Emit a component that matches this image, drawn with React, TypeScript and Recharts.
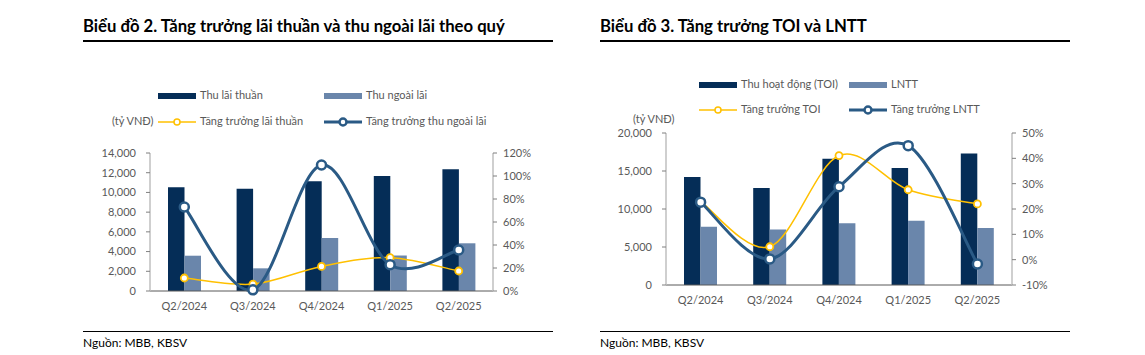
import React from "react";
import {
  ComposedChart,
  Bar,
  Line,
  XAxis,
  YAxis,
} from "recharts";

// data
const quarters = ["Q2/2024", "Q3/2024", "Q4/2024", "Q1/2025", "Q2/2025"];

const netInterest = [10520, 10380, 11130, 11670, 12350];
const nonInterest = [3580, 2300, 5380, 3600, 4840];
const netInterestGrowth = [11.3, 6, 21.4, 29, 17.4];
const nonInterestGrowth = [73, 1, 109.6, 22.9, 35.7];

const toi = [14200, 12750, 16610, 15390, 17310];
const pbt = [7650, 7290, 8130, 8440, 7510];
const toiGrowth = [23, 5.1, 41.1, 27.6, 22];
const pbtGrowth = [22.7, 0.3, 28.8, 45, -1.7];

const leftTicks = [0, 2000, 4000, 6000, 8000, 10000, 12000, 14000];
const leftPctTicks = [0, 20, 40, 60, 80, 100, 120];
const rightTicks = [0, 5000, 10000, 15000, 20000];
const rightPctTicks = [-10, 0, 10, 20, 30, 40, 50];

const DARK = "#052D57";
const LIGHT = "#6A86AB";
const LINE_BLUE = "#2A5A85";
const YELLOW = "#FFC000";
const GREY_TEXT = "#595959";
const FONT = "Lato, 'Open Sans', sans-serif";

const chart1 = quarters.map((q, i) => ({
  name: q,
  a: netInterest[i],
  b: nonInterest[i],
  ga: netInterestGrowth[i],
  gb: nonInterestGrowth[i],
}));

const chart2 = quarters.map((q, i) => ({
  name: q,
  a: toi[i],
  b: pbt[i],
  ga: toiGrowth[i],
  gb: pbtGrowth[i],
}));

// excel-like smoothed line (catmull-rom)
const smoothCurve = (context: any) => {
  let pts: [number, number][] = [];
  return {
    areaStart() {},
    areaEnd() {},
    lineStart() {
      pts = [];
    },
    point(x: number, y: number) {
      pts.push([+x, +y]);
    },
    lineEnd() {
      const n = pts.length;
      if (!n) return;
      const k = 1 / 6;
      context.moveTo(pts[0][0], pts[0][1]);
      for (let i = 0; i < n - 1; i++) {
        const p0 = pts[Math.max(i - 1, 0)];
        const p1 = pts[i];
        const p2 = pts[i + 1];
        const p3 = pts[Math.min(i + 2, n - 1)];
        context.bezierCurveTo(
          p1[0] + (p2[0] - p0[0]) * k,
          p1[1] + (p2[1] - p0[1]) * k,
          p2[0] - (p3[0] - p1[0]) * k,
          p2[1] - (p3[1] - p1[1]) * k,
          p2[0],
          p2[1]
        );
      }
    },
  };
};

const fmtNum = (v: number) => v.toLocaleString("en-US");
const fmtPct = (v: number) => `${v}%`;

const tickStyle = { fontSize: 11, fill: GREY_TEXT, fontFamily: FONT };

const BarSwatch = ({ color }: { color: string }) => (
  <span
    style={{
      display: "inline-block",
      width: 38,
      height: 6,
      background: color,
      marginRight: 4,
      verticalAlign: "middle",
    }}
  />
);

const LineSwatch = ({ color, thick }: { color: string; thick?: boolean }) => (
  <svg width={38} height={10} style={{ verticalAlign: "middle", marginRight: 4 }}>
    <line x1={0} y1={5} x2={38} y2={5} stroke={color} strokeWidth={thick ? 3 : 1.5} />
    <circle cx={19} cy={5} r={thick ? 3.5 : 3} fill="#fff" stroke={color} strokeWidth={thick ? 2.5 : 1.5} />
  </svg>
);

const legendText: React.CSSProperties = {
  position: "absolute",
  fontSize: 11,
  color: GREY_TEXT,
  fontFamily: FONT,
  whiteSpace: "nowrap",
  lineHeight: "12px",
};

const Item = ({ x, y, children }: { x: number; y: number; children: React.ReactNode }) => (
  <div style={{ ...legendText, left: x, top: y - 6 }}>{children}</div>
);

type PanelProps = {
  data: any[];
  left: number;
  top: number;
  height: number;
  leftWidth: number;
  rightMargin: number;
  leftDomain: [number, number];
  leftTickVals: number[];
  pctDomain: [number, number];
  pctTickVals: number[];
};

const Panel = (p: PanelProps) => (
  <div style={{ position: "absolute", left: p.left, top: p.top }}>
    <ComposedChart
      width={480}
      height={p.height}
      data={p.data}
      margin={{ top: 13, right: p.rightMargin, left: 0, bottom: 4 }}
      barGap={0}
    >
      <XAxis
        dataKey="name"
        height={25}
        tick={tickStyle}
        tickLine={false}
        tickSize={0}
        tickMargin={11}
        axisLine={{ stroke: "#595959" }}
      />
      <YAxis
        yAxisId="l"
        width={p.leftWidth}
        domain={p.leftDomain}
        ticks={p.leftTickVals}
        tickFormatter={fmtNum}
        tick={tickStyle}
        tickSize={4}
        tickMargin={10}
        tickLine={{ stroke: "#7f7f7f" }}
        axisLine={{ stroke: "#BFBFBF", strokeWidth: 1.5 }}
        interval={0}
      />
      <YAxis
        yAxisId="r"
        orientation="right"
        width={50}
        domain={p.pctDomain}
        ticks={p.pctTickVals}
        tickFormatter={fmtPct}
        tick={tickStyle}
        tickSize={4}
        tickMargin={6}
        tickLine={{ stroke: "#7f7f7f" }}
        axisLine={{ stroke: "#BFBFBF", strokeWidth: 1.5 }}
        interval={0}
      />
      <Bar yAxisId="l" dataKey="a" fill={DARK} barSize={16.5} isAnimationActive={false} />
      <Bar yAxisId="l" dataKey="b" fill={LIGHT} barSize={16.5} isAnimationActive={false} />
      <Line
        yAxisId="r"
        dataKey="ga"
        type={smoothCurve as any}
        stroke={YELLOW}
        strokeWidth={1.5}
        dot={{ r: 3.5, fill: "#fff", stroke: YELLOW, strokeWidth: 1.8 }}
        isAnimationActive={false}
      />
      <Line
        yAxisId="r"
        dataKey="gb"
        type={smoothCurve as any}
        stroke={LINE_BLUE}
        strokeWidth={3}
        dot={{ r: 4.5, fill: "#fff", stroke: LINE_BLUE, strokeWidth: 2.5 }}
        isAnimationActive={false}
      />
    </ComposedChart>
  </div>
);

const titleStyle: React.CSSProperties = {
  position: "absolute",
  fontSize: 16.7,
  fontWeight: 700,
  fontFamily: FONT,
  color: "#000",
  whiteSpace: "nowrap",
  lineHeight: "20px",
};

const sourceStyle: React.CSSProperties = {
  position: "absolute",
  fontSize: 12,
  fontFamily: FONT,
  color: "#000",
  whiteSpace: "nowrap",
  lineHeight: "14px",
};

const rule = (x: number, y: number, w: number, h: number) => (
  <div style={{ position: "absolute", left: x, top: y, width: w, height: h, background: "#000" }} />
);

export default function App() {
  return (
    <div
      style={{
        position: "absolute",
        left: 0,
        top: 0,
        width: 1145,
        height: 355,
        background: "#fff",
        overflow: "hidden",
      }}
    >
      {/* left panel */}
      <div style={{ ...titleStyle, left: 83, top: 16 }}>
        Biểu đồ 2. Tăng trưởng lãi thuần và thu ngoài lãi theo quý
      </div>
      {rule(83, 40, 470, 1.5)}
      <Item x={158} y={95}>
        <BarSwatch color={DARK} />
        Thu lãi thuần
      </Item>
      <Item x={324} y={95}>
        <BarSwatch color={LIGHT} />
        Thu ngoài lãi
      </Item>
      <Item x={112} y={121}>(tỷ VNĐ)</Item>
      <Item x={158} y={121}>
        <LineSwatch color={YELLOW} />
        Tăng trưởng lãi thuần
      </Item>
      <Item x={324} y={121}>
        <LineSwatch color={LINE_BLUE} thick />
        Tăng trưởng thu ngoài lãi
      </Item>
      <Panel
        data={chart1}
        left={80}
        top={140}
        height={180}
        leftWidth={70}
        rightMargin={17}
        leftDomain={[0, 14000]}
        leftTickVals={leftTicks}
        pctDomain={[0, 120]}
        pctTickVals={leftPctTicks}
      />
      {rule(83, 331, 470, 1)}
      <div style={{ ...sourceStyle, left: 83, top: 336 }}>Nguồn: MBB, KBSV</div>

      {/* right panel */}
      <div style={{ ...titleStyle, left: 600, top: 16 }}>
        Biểu đồ 3. Tăng trưởng TOI và LNTT
      </div>
      {rule(600, 40, 470, 1.5)}
      <Item x={699} y={84}>
        <BarSwatch color={DARK} />
        Thu hoạt động (TOI)
      </Item>
      <Item x={849} y={84}>
        <BarSwatch color={LIGHT} />
        LNTT
      </Item>
      <Item x={699} y={109}>
        <LineSwatch color={YELLOW} />
        Tăng trưởng TOI
      </Item>
      <Item x={849} y={109}>
        <LineSwatch color={LINE_BLUE} thick />
        Tăng trưởng LNTT
      </Item>
      <Item x={633} y={119}>(tỷ VNĐ)</Item>
      <Panel
        data={chart2}
        left={600}
        top={120}
        height={194}
        leftWidth={66}
        rightMargin={18}
        leftDomain={[0, 20000]}
        leftTickVals={rightTicks}
        pctDomain={[-10, 50]}
        pctTickVals={rightPctTicks}
      />
      {rule(600, 331, 470, 1)}
      <div style={{ ...sourceStyle, left: 600, top: 336 }}>Nguồn: MBB, KBSV</div>
    </div>
  );
}
